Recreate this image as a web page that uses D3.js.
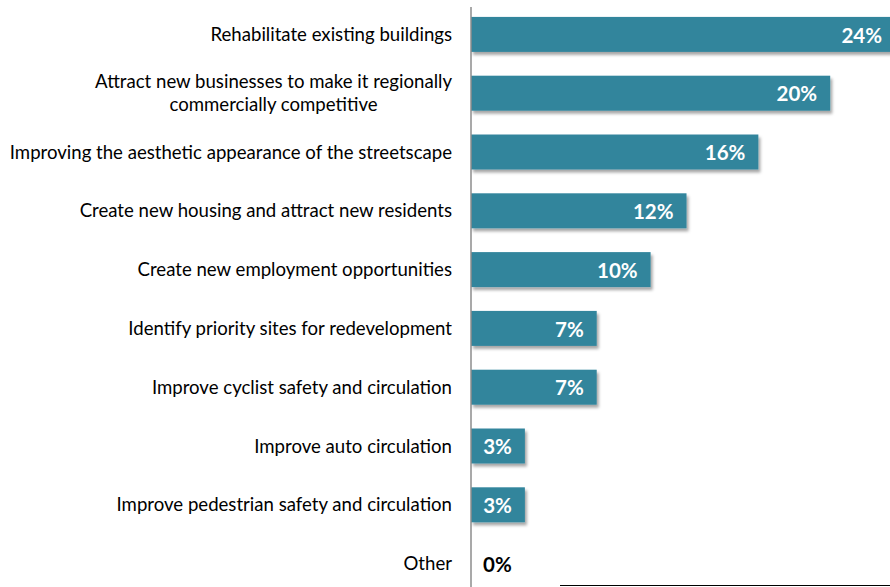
<!DOCTYPE html>
<html>
<head>
<meta charset="utf-8">
<script src="https://cdn.jsdelivr.net/npm/d3@7/dist/d3.min.js"></script>
<style>
  html, body { margin: 0; padding: 0; background: #fff; }
  svg { display: block; }
  text { font-family: Lato, "Open Sans", sans-serif; }
</style>
</head>
<body>
<svg id="chart" width="890" height="587"></svg>
<script>
// Survey priorities, share of responses (%)
const categories = [
  ["Rehabilitate existing buildings"],
  ["Attract new businesses to make it regionally", "commercially competitive"],
  ["Improving the aesthetic appearance of the streetscape"],
  ["Create new housing and attract new residents"],
  ["Create new employment opportunities"],
  ["Identify priority sites for redevelopment"],
  ["Improve cyclist safety and circulation"],
  ["Improve auto circulation"],
  ["Improve pedestrian safety and circulation"],
  ["Other"]
];
const values = [24, 20, 16, 12, 10, 7, 7, 3, 3, 0];
const valueLabels = ["24%", "20%", "16%", "12%", "10%", "7%", "7%", "3%", "3%", "0%"];

const rows = values.map((v, i) => ({ i, v, label: valueLabels[i], lines: categories[i] }));

const W = 890, H = 587;
const axisX = 471;
const svg = d3.select("#chart");

const x = d3.scaleLinear().domain([0, 25]).range([axisX, axisX + 449]);
const y = d3.scaleBand()
  .domain(d3.range(categories.length))
  .range([5, 593])
  .paddingInner(0.405)
  .paddingOuter(0.2025);

const defs = svg.append("defs");
const shadow = defs.append("filter").attr("id", "shadow")
  .attr("x", "-5%").attr("y", "-20%").attr("width", "115%").attr("height", "160%");
shadow.append("feDropShadow")
  .attr("dx", 2).attr("dy", 3).attr("stdDeviation", 1.8)
  .attr("flood-color", "#000").attr("flood-opacity", 0.35);
defs.append("clipPath").attr("id", "plot")
  .append("rect").attr("x", axisX).attr("y", 0).attr("width", W - axisX).attr("height", H);

// Bars
svg.append("g").attr("clip-path", "url(#plot)")
  .selectAll("rect")
  .data(rows.filter(r => r.v > 0))
  .join("rect")
  .attr("x", x(0))
  .attr("y", r => y(r.i))
  .attr("height", y.bandwidth())
  .attr("width", r => x(r.v) - x(0))
  .attr("fill", "#31859c")
  .attr("filter", "url(#shadow)");

// Category axis line
svg.append("line")
  .attr("x1", axisX).attr("x2", axisX)
  .attr("y1", 7).attr("y2", H)
  .attr("stroke", "#8c8c8c").attr("stroke-width", 1.5);

// Short rule at the bottom
svg.append("line")
  .attr("x1", 560).attr("x2", W)
  .attr("y1", 585.5).attr("y2", 585.5)
  .attr("stroke", "#000").attr("stroke-width", 1);

// Category labels
const labelRight = 452;
const fs = 18.6;
const labelG = svg.append("g");
rows.forEach(r => {
  const cy = y(r.i) + y.bandwidth() / 2;
  const lh = 23;
  const top = cy - (r.lines.length - 1) * lh / 2;
  const t0 = labelG.append("text")
    .attr("x", labelRight)
    .attr("y", top)
    .attr("dy", "0.35em")
    .attr("text-anchor", "end")
    .attr("font-size", fs)
    .attr("fill", "#000")
    .text(r.lines[0]);
  if (r.lines.length > 1) {
    const w0 = t0.node().getComputedTextLength();
    const mid = labelRight - w0 / 2;
    r.lines.slice(1).forEach((ln, k) => {
      labelG.append("text")
        .attr("x", mid)
        .attr("y", top + (k + 1) * lh)
        .attr("dy", "0.35em")
        .attr("text-anchor", "middle")
        .attr("font-size", fs)
        .attr("fill", "#000")
        .text(ln);
    });
  }
});

// Value labels
svg.append("g").selectAll("text")
  .data(rows)
  .join("text")
  .attr("x", r => r.v > 0 ? Math.min(x(r.v), W) - (x(r.v) > W ? 8 : 13) : x(0) + 12)
  .attr("y", r => y(r.i) + y.bandwidth() / 2 + 1)
  .attr("dy", "0.35em")
  .attr("text-anchor", r => r.v > 0 ? "end" : "start")
  .attr("font-size", 20.5)
  .attr("font-weight", "bold")
  .attr("fill", r => r.v > 0 ? "#fff" : "#000")
  .text(r => r.label);
</script>
</body>
</html>
